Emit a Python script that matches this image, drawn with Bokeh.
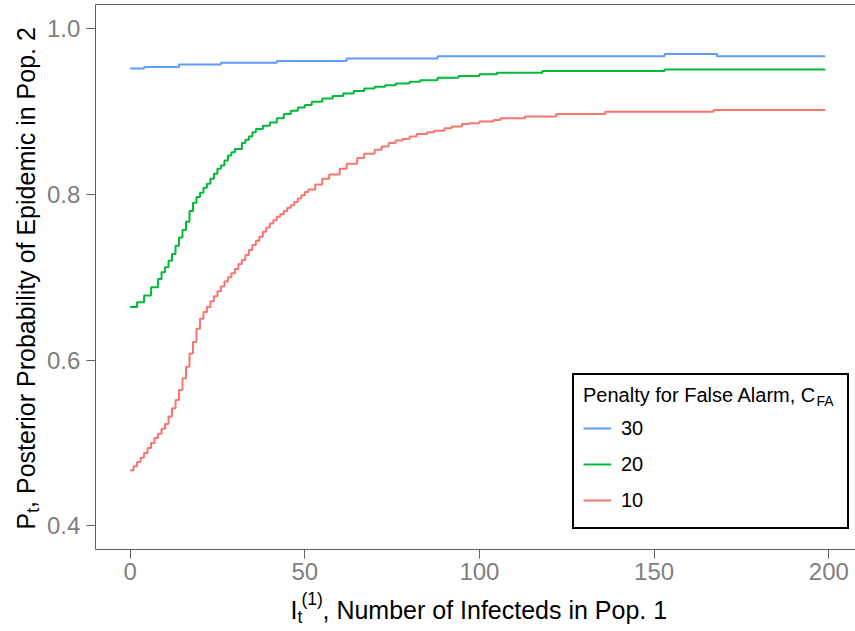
import math
from bokeh.plotting import figure
from bokeh.models import (Range1d, FixedTicker, PrintfTickFormatter, Legend, LegendItem, Label,
                          LinearAxis)
from bokeh.embed import file_html
from bokeh.resources import INLINE

# ---------------- data ----------------
x_ticks = [0, 50, 100, 150, 200]
y_ticks = [0.4, 0.6, 0.8, 1.0]
penalties = ["30", "20", "10"]

x_30 = [0, 4, 14, 26, 42, 62, 88, 153, 168, 199]
p_30 = [0.952, 0.954, 0.957, 0.959, 0.961, 0.964, 0.967, 0.9695, 0.967, 0.967]

x_20 = [0, 2, 4, 6, 8, 9, 10, 11, 12, 13, 14, 15, 16, 17, 18, 19, 20, 21, 22, 23, 24, 25, 26, 27, 28, 29, 30,
        32, 33, 34, 35, 36, 38, 40, 42, 44, 46, 48, 50, 52, 55, 58, 61, 64, 67, 70, 73, 76, 80, 83, 88, 94,
        100, 105, 118, 153, 199]
p_20 = [0.664, 0.670, 0.678, 0.688, 0.698, 0.706, 0.712, 0.720, 0.728, 0.738, 0.748, 0.757, 0.767, 0.780,
        0.790, 0.797, 0.802, 0.808, 0.813, 0.819, 0.825, 0.831, 0.835, 0.841, 0.847, 0.851, 0.855,
        0.862, 0.866, 0.870, 0.875, 0.879, 0.883, 0.887, 0.892, 0.897, 0.901, 0.905, 0.908, 0.912, 0.916,
        0.919, 0.922, 0.925, 0.928, 0.930, 0.932, 0.934, 0.936, 0.938, 0.941, 0.943, 0.945, 0.947, 0.949,
        0.951, 0.951]

x_10 = [0, 1, 2, 3, 4, 5, 6, 7, 8, 9, 10, 11, 12, 13, 14, 15, 16, 17, 18, 19, 20, 21, 22, 23, 24, 25, 26,
        27, 28, 29, 30, 31, 32, 33, 34, 35, 36, 37, 38, 39, 40, 41, 42, 43, 44, 45, 46, 47, 48, 49, 50, 51,
        53, 55, 57, 60, 62, 65, 67, 70, 72, 74, 76, 78, 80, 82, 85, 87, 90, 92, 95, 97, 100, 104, 106, 113,
        122, 136, 167, 199]
p_10 = [0.467, 0.472, 0.477, 0.482, 0.488, 0.494, 0.500, 0.506, 0.511, 0.517, 0.523, 0.532, 0.542, 0.552,
        0.564, 0.578, 0.592, 0.608, 0.622, 0.638, 0.650, 0.658, 0.664, 0.671, 0.677, 0.683, 0.689, 0.695,
        0.700, 0.705, 0.710, 0.716, 0.721, 0.727, 0.733, 0.739, 0.744, 0.749, 0.755, 0.760, 0.765, 0.769,
        0.773, 0.776, 0.780, 0.784, 0.787, 0.791, 0.795, 0.799, 0.803, 0.806,
        0.812, 0.819, 0.824, 0.831, 0.837, 0.844, 0.849, 0.854, 0.858, 0.862, 0.865, 0.867, 0.870, 0.873,
        0.875, 0.877, 0.880, 0.882, 0.885, 0.886, 0.888, 0.890, 0.892, 0.894, 0.897, 0.900, 0.902, 0.902]

colors = {"30": "#619CFF", "20": "#00BA38", "10": "#F8766D"}
series = {"30": (x_30, p_30), "20": (x_20, p_20), "10": (x_10, p_10)}

FONT = "Liberation Sans"
BORDER = "#5F5F5F"
TICKTXT = "#7F7F7F"
W, H = 855, 631

# full-canvas ranges (the panel sits inside them, axes are pinned at the panel edges)
X_RANGE = (-37.097, 207.64)
Y_RANGE = (0.27236, 1.03417)
PANEL_X = (-9.95, 207.64)
PANEL_Y = (0.3715, 1.0288)

p = figure(width=W, height=H, output_backend="svg", toolbar_location=None, title=None,
           x_range=Range1d(*X_RANGE), y_range=Range1d(*Y_RANGE),
           min_border_left=0, min_border_right=0, min_border_top=0, min_border_bottom=0)
p.background_fill_color = "white"
p.border_fill_color = "white"
p.outline_line_color = None
p.xgrid.grid_line_color = None
p.ygrid.grid_line_color = None

xa = p.xaxis[0]
ya = p.yaxis[0]
xa.fixed_location = PANEL_Y[0]
xa.bounds = PANEL_X
ya.fixed_location = PANEL_X[0]
ya.bounds = PANEL_Y
for ax in (xa, ya):
    ax.axis_line_color = BORDER
    ax.axis_line_width = 1
    ax.major_tick_line_color = BORDER
    ax.major_tick_out = 9
    ax.major_tick_in = 0
    ax.minor_tick_line_color = None
    ax.major_label_text_font = FONT
    ax.major_label_text_font_size = "24px"
    ax.major_label_text_color = TICKTXT
xa.ticker = FixedTicker(ticks=x_ticks)
ya.ticker = FixedTicker(ticks=y_ticks)
ya.formatter = PrintfTickFormatter(format="%.1f")
xa.major_label_standoff = 5
ya.major_label_standoff = 6

# top border of the panel
top = LinearAxis(fixed_location=PANEL_Y[1], bounds=PANEL_X, ticker=FixedTicker(ticks=[]),
                 axis_line_color=BORDER, major_tick_line_color=None, minor_tick_line_color=None,
                 major_label_text_color=None)
p.add_layout(top, "above")

renderers = {}
for key in penalties:
    xs, ys = series[key]
    renderers[key] = p.step(x=xs, y=ys, mode="after", line_width=2, line_color=colors[key])

legend = Legend(items=[LegendItem(label=k, renderers=[renderers[k]]) for k in penalties],
                location=(572, H - 529), title="Penalty for False Alarm, C",
                title_text_font=FONT, title_text_font_size="20px", title_text_font_style="normal",
                title_text_color="black", title_standoff=3,
                label_text_font=FONT, label_text_font_size="20px", label_text_color="black",
                glyph_width=28, glyph_height=36, label_height=36, label_width=217, label_standoff=10,
                spacing=0, padding=9, margin=0,
                border_line_color="black", border_line_width=2, border_line_alpha=1.0,
                background_fill_color="white", background_fill_alpha=0.0)
p.add_layout(legend)


def lab(text, x, y, size, angle=0.0):
    # x, y are canvas pixels (x from the left, y from the bottom of the canvas)
    return Label(x=x, y=y, x_units="screen", y_units="screen", text=text, angle=angle,
                 text_font=FONT, text_font_size=size, text_color="black",
                 text_align="left", text_baseline="alphabetic", level="overlay")


# subscript of the legend title
p.add_layout(lab("FA", 816, H - 400.5, "14px"))

TS = "25px"
SS = "17.5px"
# x axis title:  I_t^(1), Number of Infecteds in Pop. 1
p.add_layout(lab("I", 290, H - 609, TS))
p.add_layout(lab("t", 297, H - 616.4, SS))
p.add_layout(lab("(1)", 301, H - 598.5, SS))
p.add_layout(lab(", Number of Infecteds in Pop. 1", 322, H - 609, TS))

# y axis title:  P_t, Posterior Probability of Epidemic in Pop. 2  (rotated)
A = math.pi / 2
p.add_layout(lab("P", 25, H - 529, TS, A))
p.add_layout(lab("t", 32.4, H - 512.3, SS, A))
p.add_layout(lab(", Posterior Probability of Epidemic in Pop. 2", 25, H - 507.4, TS, A))

open("out.html", "w").write(file_html(p, INLINE))
